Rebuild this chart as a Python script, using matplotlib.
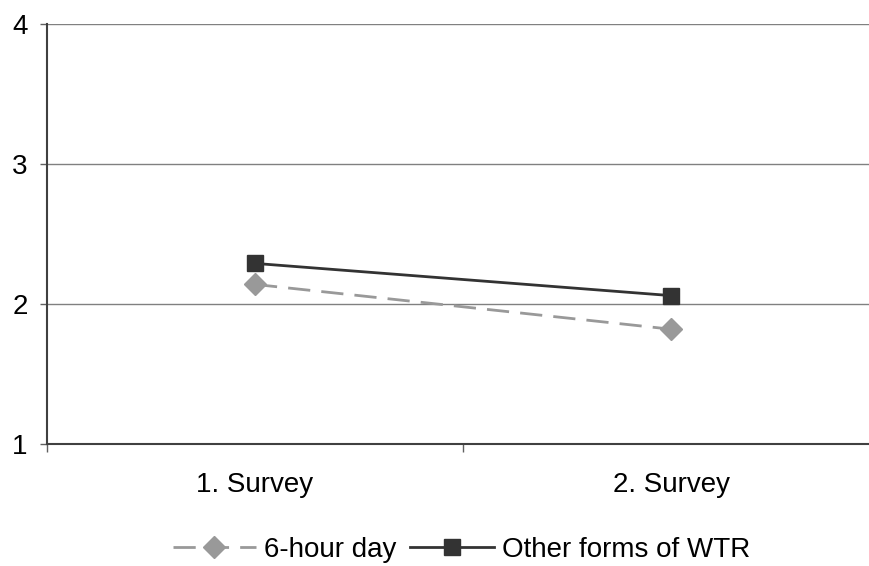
import matplotlib
matplotlib.use("Agg")
import matplotlib.pyplot as plt

categories = ["1. Survey", "2. Survey"]
six_hour_day = [2.14, 1.82]
other_forms = [2.29, 2.06]
y_ticks = [1, 2, 3, 4]

plt.rcParams['font.family'] = ['Liberation Sans', 'DejaVu Sans']

fig = plt.figure(figsize=(8.69, 5.66), dpi=100)
ax = fig.add_axes([47 / 869, 122 / 566, 832 / 869, 420 / 566])

x = list(range(len(categories)))
ax.plot(x, six_hour_day, color='#999999', linestyle=(0, (8, 4)), linewidth=2,
        marker='D', markersize=11, markerfacecolor='#999999',
        markeredgecolor='#999999', label='6-hour day', zorder=3)
ax.plot(x, other_forms, color='#333333', linewidth=2, marker='s',
        markersize=12, markerfacecolor='#333333', markeredgecolor='#333333',
        label='Other forms of WTR', zorder=4)

ax.set_xlim(-0.5, len(categories) - 0.5)
ax.set_ylim(1, 4)
ax.set_yticks(y_ticks)
ax.set_yticklabels([str(v) for v in y_ticks], fontsize=20)
ax.yaxis.grid(True, color='#808080', linewidth=1)
ax.set_axisbelow(True)

# categories sit between the ticks
ax.set_xticks([-0.5, 0.5, 1.5])
ax.set_xticklabels([])
ax.set_xticks(x, minor=True)
ax.set_xticklabels(categories, minor=True, fontsize=20)
ax.tick_params(axis='x', which='minor', length=0, pad=20)
ax.tick_params(axis='x', which='major', length=6, width=1, color='#606060')
ax.tick_params(axis='y', length=5, width=1, color='#606060', pad=9)

for side in ['top', 'right']:
    ax.spines[side].set_visible(False)
for side in ['left', 'bottom']:
    ax.spines[side].set_color('#404040')
    ax.spines[side].set_linewidth(1.5)

fig.legend(loc='center', bbox_to_anchor=(0.531, 16 / 566),
           ncol=2, frameon=False, fontsize=20, handlelength=3.0,
           handletextpad=0.3, columnspacing=0.5)

fig.savefig("out.png", dpi=100)
